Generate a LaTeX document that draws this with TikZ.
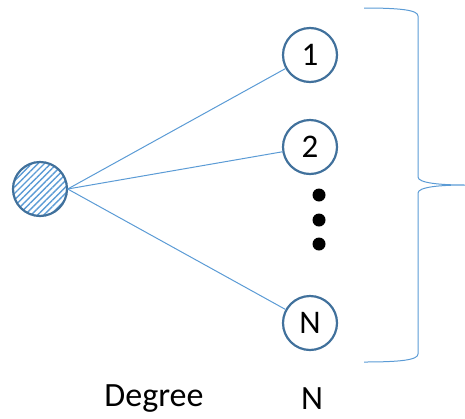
\documentclass[tikz,border=0pt]{standalone}
\usepackage{fontspec}
\setmainfont{Carlito}
\usetikzlibrary{patterns.meta}

\definecolor{ringblue}{HTML}{41719C}
\definecolor{lineblue}{HTML}{5B9BD5}

\tikzset{
  vertex/.style={circle, draw=ringblue, line width=2.2pt, fill=white,
    minimum size=54pt, inner sep=0pt, font=\fontsize{33}{36}\selectfont},
  edge/.style={draw=lineblue, line width=1pt},
  lbl/.style={font=\fontsize{34}{38}\selectfont}
}

\begin{document}
\begin{tikzpicture}[x=1pt, y=-1pt]
            \useasboundingbox (0,0) rectangle (465,418);

            \node[vertex, pattern={Lines[angle=45,distance=4.5pt,line width=1.4pt]},
                  pattern color=lineblue] (hub) at (40,189) {};
            \node[vertex] (n1) at (310,55) {1};
            \node[vertex] (n2) at (310,147) {2};
            \node[vertex] (nN) at (310,323) {N};

            \draw[edge] (hub.east) -- (n1);
            \draw[edge] (hub.east) -- (n2);
            \draw[edge] (hub.east) -- (nN);

            % vertical ellipsis
            \foreach \y in {195,220,244}
                \fill (319,\y) circle (6.5);

            % brace on the right
            \draw[lineblue, line width=1pt]
                (364,8) .. controls (400,8) and (418,10) .. (418,16)
                -- (418,177) .. controls (418,183) and (440,185) .. (465,185)
                .. controls (440,185) and (418,187) .. (418,193)
                -- (418,354) .. controls (418,360) and (400,362) .. (364,362);

            \node[lbl] (deg) at (154,399) {Degree};
            \node[lbl] (val) at (312,399) {N};
        \end{tikzpicture}
\end{document}
